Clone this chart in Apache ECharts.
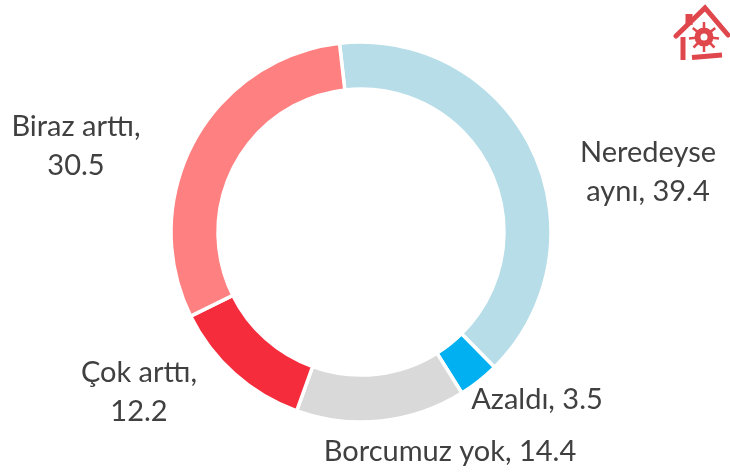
<!DOCTYPE html>
<html><head><meta charset="utf-8">
<style>html,body{margin:0;padding:0;background:#fff}#c{width:730px;height:473px}</style>
<script src="https://cdn.jsdelivr.net/npm/echarts@6/dist/echarts.min.js"></script>
</head><body><div id="c"></div>
<script>
const categories = ['Neredeyse\naynı', 'Azaldı', 'Borcumuz yok', 'Çok arttı\n', 'Biraz arttı\n'];
const values = [39.4, 3.5, 14.4, 12.2, 30.5];
const colors = ['#B7DDE8', '#00B0F0', '#D9D9D9', '#F52C3C', '#FF8080'];
const labelSpots = [[648, 172], [537, 400], [450, 452], [139, 392], [76, 146]];
const iconRed = '#E0474C';
const chart = echarts.init(document.getElementById('c'), null, {renderer: 'canvas'});
const stroke = w => ({stroke: iconRed, lineWidth: w, fill: 'none', lineCap: 'round'});
const spokes = [[0,-1],[0.75,-0.6],[1,0.1],[0.7,0.7],[0,1],[-0.7,0.7],[-1,0.1],[-0.75,-0.6]];
chart.setOption({
  animation: false,
  backgroundColor: '#fff',
  series: [{
    type: 'pie',
    center: [361, 232],
    radius: [143, 190],
    startAngle: 96.5,
    clockwise: true,
    silent: true,
    itemStyle: {borderColor: '#fff', borderWidth: 3.5},
    label: {
      show: true,
      formatter: p => p.name.endsWith('\n') ? p.name.trim() + ',\n' + p.value : p.name + ', ' + p.value,
      fontFamily: 'Lato', fontSize: 29, color: '#404040', lineHeight: 39, align: 'center'
    },
    labelLine: {show: false},
    labelLayout: p => ({
      x: labelSpots[p.dataIndex][0], y: labelSpots[p.dataIndex][1],
      align: 'center', verticalAlign: 'middle'
    }),
    data: categories.map((n, i) => ({name: n, value: values[i], itemStyle: {color: colors[i]}}))
  }],
  graphic: [
    {type: 'polyline', shape: {points: [[676,36],[705,8],[728,35]]}, style: stroke(5)},
    {type: 'polyline', shape: {points: [[689,25],[689,14]]}, style: {stroke: iconRed, lineWidth: 7, fill: 'none'}},
    {type: 'polyline', shape: {points: [[683,37],[683,60]]}, style: {stroke: iconRed, lineWidth: 5, fill: 'none'}},
    {type: 'polyline', shape: {points: [[692,57.5],[722,55]]}, style: {stroke: iconRed, lineWidth: 5, fill: 'none'}},
    {type: 'circle', shape: {cx: 704, cy: 37, r: 6.5}, style: {stroke: iconRed, lineWidth: 6, fill: '#fff'}},
    ...spokes.map(d => ({type: 'line', shape: {x1: 704 + d[0] * 8, y1: 37 + d[1] * 8, x2: 704 + d[0] * 15, y2: 37 + d[1] * 15}, style: {stroke: iconRed, lineWidth: 2.5}}))
  ]
});
</script></body></html>
